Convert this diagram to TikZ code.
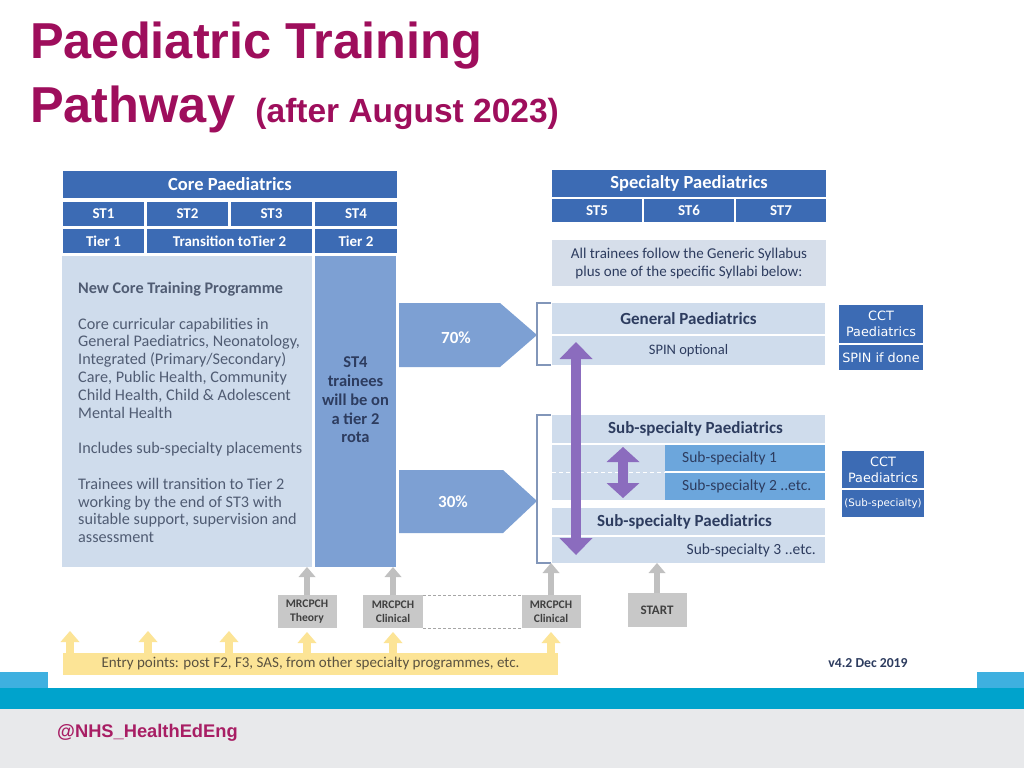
\documentclass[tikz,border=0pt]{standalone}
\usepackage{fontspec}
\setmainfont{Carlito}
\newfontfamily\arialfont{Liberation Sans}
\newfontfamily\verdfont{DejaVu Sans}
\usetikzlibrary{arrows.meta}
\definecolor{hdrblue}{RGB}{60,107,180}
\definecolor{paleblue}{RGB}{207,220,236}
\definecolor{syllgrey}{RGB}{214,222,234}
\definecolor{midblue}{RGB}{125,160,211}
\definecolor{skyblue}{RGB}{108,166,220}
\definecolor{ppl}{RGB}{139,108,190}
\definecolor{navytext}{RGB}{45,60,95}
\definecolor{bodytext}{RGB}{80,92,115}
\definecolor{examgrey}{RGB}{200,200,200}
\definecolor{arrgrey}{RGB}{192,192,192}
\definecolor{entryyel}{RGB}{252,228,150}
\definecolor{entrytext}{RGB}{90,82,64}
\definecolor{brkblue}{RGB}{130,150,185}
\definecolor{titlemag}{RGB}{158,14,92}
\definecolor{tagmag}{RGB}{168,30,100}
\definecolor{stripblue}{RGB}{62,176,224}
\definecolor{stripcyan}{RGB}{0,163,204}
\definecolor{footgrey}{RGB}{232,233,235}
\begin{document}
\begin{tikzpicture}[x=1pt,y=-1pt,
    box/.style={rectangle,inner sep=0pt,outer sep=0pt,align=center},
    hdr/.style={box,fill=hdrblue,text=white,font=\bfseries\fontsize{18.5}{20}\selectfont},
    cell/.style={box,fill=hdrblue,text=white,font=\bfseries\fontsize{15}{17}\selectfont},
    pale/.style={box,fill=paleblue,text=navytext,font=\fontsize{14.5}{17}\selectfont},
    subhdr/.style={pale,font=\bfseries\fontsize{17}{19}\selectfont},
    ttl/.style={anchor=base west,inner sep=0pt,text=titlemag,font=\arialfont\bfseries\fontsize{50.5}{56}\selectfont},
    cct/.style={box,fill=hdrblue,text=white,font=\verdfont\fontsize{12.8}{16}\selectfont},
    exam/.style={box,fill=examgrey,text=black!75,font=\bfseries\fontsize{11.6}{14}\selectfont},
    brk/.style={draw=brkblue,line width=1.8pt},
    dbl/.style={draw=ppl,line width=10pt,>={Triangle[width=33pt,length=17pt,line width=0pt]},<->},
    garr/.style={draw=arrgrey,line width=6pt,-{Triangle[width=17pt,length=10pt,line width=0pt]}},
    yarr/.style={draw=entryyel,line width=8pt,-{Triangle[width=19pt,length=11pt,line width=0pt]}}]
    \fill[white] (0,0) rectangle (1024,768);
    \useasboundingbox (0,0) rectangle (1024,768);
    \fill[stripblue] (0,672) rectangle (1024,688);
    \fill[white] (48,640) rectangle (977,688);
    \fill[stripcyan] (0,688) rectangle (1024,709);
    \fill[footgrey] (0,709) rectangle (1024,768);

    \node[ttl] (t1) at (30,59) {Paediatric Training};
    \node[ttl] (t2) at (30,122) {Pathway};
    \node[ttl,font=\arialfont\bfseries\fontsize{33.5}{40}\selectfont] (t3) at ([xshift=20pt]t2.base east) {(after August 2023)};

    \node[hdr,minimum width=334pt,minimum height=27pt] (core) at (230,184.5) {Core Paediatrics};
    \node[cell,minimum width=81pt,minimum height=24pt] (st1) at (103.5,214) {ST1};
    \node[cell,minimum width=81pt,minimum height=24pt] (st2) at (187.5,214) {ST2};
    \node[cell,minimum width=81pt,minimum height=24pt] (st3) at (271.5,214) {ST3};
    \node[cell,minimum width=82pt,minimum height=24pt] (st4) at (356,214) {ST4};
    \node[cell,minimum width=81pt,minimum height=24pt] (tier1) at (103.5,241) {Tier 1};
    \node[cell,minimum width=165pt,minimum height=24pt] (trans) at (229.5,241) {Transition toTier 2};
    \node[cell,minimum width=82pt,minimum height=24pt] (tier2) at (356,241) {Tier 2};
    \node[pale,minimum width=250pt,minimum height=311pt] (prog) at (187,411.5) {};
    \node[box,fill=midblue,minimum width=81pt,minimum height=311pt] (st4c) at (355.5,411.5) {};
    \node[anchor=north west,inner sep=0pt,align=left,text=bodytext,font=\fontsize{16.2}{17.8}\selectfont] (progt) at (78,282)
        {\textbf{New Core Training Programme}\\[17.8pt]
         Core curricular capabilities in\\
         General Paediatrics, Neonatology,\\
         Integrated (Primary/Secondary)\\
         Care, Public Health, Community\\
         Child Health, Child \& Adolescent\\
         Mental Health\\[17.8pt]
         Includes sub-specialty placements\\[17.8pt]
         Trainees will transition to Tier 2\\
         working by the end of ST3 with\\
         suitable support, supervision and\\
         assessment};
    \node[box,text=navytext,font=\bfseries\fontsize{16.5}{18.7}\selectfont] (st4t) at (355.5,400) {ST4\\trainees\\will be on\\a tier 2\\rota};

    \fill[midblue] (399,303) -- (500,303) -- (537,335) -- (500,367) -- (399,367) -- cycle;
    \node[text=white,font=\bfseries\fontsize{17}{19}\selectfont] (p70) at (456,338) {70\%};
    \fill[midblue] (399,470) -- (503,470) -- (537,501) -- (503,533) -- (399,533) -- cycle;
    \node[text=white,font=\bfseries\fontsize{17}{19}\selectfont] (p30) at (453,502) {30\%};

    \node[hdr,minimum width=274pt,minimum height=27pt] (spec) at (689,183.5) {Specialty Paediatrics};
    \node[cell,minimum width=90pt,minimum height=23pt] (st5) at (597,210.5) {ST5};
    \node[cell,minimum width=90pt,minimum height=23pt] (st6) at (689,210.5) {ST6};
    \node[cell,minimum width=90pt,minimum height=23pt] (st7) at (781,210.5) {ST7};
    \node[box,fill=syllgrey,text=navytext,minimum width=274pt,minimum height=46pt,font=\fontsize{15}{18}\selectfont] (syll) at (689,263)
        {All trainees follow the Generic Syllabus\\plus one of the specific Syllabi below:};

    \node[subhdr,minimum width=273pt,minimum height=31pt] (genp) at (688.5,318.5) {General Paediatrics};
    \node[pale,minimum width=273pt,minimum height=29pt] (spin) at (688.5,350.5) {SPIN optional};
    \node[subhdr,minimum width=273pt,minimum height=28pt] (subA) at (688.5,429) {\hspace*{14pt}Sub-specialty Paediatrics};
    \node[pale,minimum width=113pt,minimum height=55pt] (sublft) at (608.5,472.5) {};
    \node[box,fill=skyblue,minimum width=160pt,minimum height=26pt] (sub1) at (745,458) {};
    \node[box,fill=skyblue,minimum width=160pt,minimum height=27pt] (sub2) at (745,486.5) {};
    \node[anchor=west,inner sep=0pt,text=navytext,font=\fontsize{15.5}{17}\selectfont] (sub1t) at ([xshift=17pt]sub1.west) {Sub-specialty 1};
    \node[anchor=west,inner sep=0pt,text=navytext,font=\fontsize{15.5}{17}\selectfont] (sub2t) at ([xshift=17pt]sub2.west) {Sub-specialty 2 ..etc.};
    \node[subhdr,minimum width=273pt,minimum height=27pt] (subB) at (688.5,521.5) {Sub-specialty Paediatrics\hspace*{8pt}};
    \node[pale,minimum width=273pt,minimum height=26pt] (sub3) at (688.5,550) {};
    \node[anchor=east,inner sep=0pt,text=navytext,font=\fontsize{15.5}{17}\selectfont] (sub3t) at ([xshift=-9pt]sub3.east) {Sub-specialty 3 ..etc.};
    \draw[white,dash pattern=on 4pt off 3pt,line width=1pt] (sublft.west) -- (sublft.east);

    \draw[brk] ([xshift=-1pt]genp.north west) -- ++(-14,0) |- ([xshift=-1pt]spin.south west);
    \draw[brk] ([xshift=-1pt]subA.north west) -- ++(-14,0) |- ([xshift=-1pt]sub3.south west);

    \coordinate (gtop) at (576,342);
    \coordinate (gbot) at (576,555);
    \draw[dbl] (gtop) -- (gbot);
    \coordinate (stop) at (623,447);
    \coordinate (sbot) at (623,498);
    \draw[dbl,>={Triangle[width=33pt,length=15pt,line width=0pt]}] (stop) -- (sbot);

    \node[cct,minimum width=84pt,minimum height=38pt] (cct1) at (881,324) {CCT\\Paediatrics};
    \node[cct,minimum width=84pt,minimum height=25pt] (spinif) at (881,357.5) {SPIN if done};
    \node[cct,minimum width=82pt,minimum height=37pt] (cct2) at (883,469.5) {CCT\\Paediatrics};
    \node[cct,minimum width=82pt,minimum height=27pt,font=\verdfont\fontsize{10.3}{12}\selectfont] (subsp) at (883,503.5) {(Sub-specialty)};

    \node[exam,minimum width=59pt,minimum height=33pt] (mt) at (307,611.5) {MRCPCH\\Theory};
    \node[exam,minimum width=60pt,minimum height=33pt] (mc1) at (393,611.5) {MRCPCH\\Clinical};
    \node[exam,minimum width=59pt,minimum height=33pt] (mc2) at (551,611.5) {MRCPCH\\Clinical};
    \node[exam,minimum width=59pt,minimum height=34pt,font=\bfseries\fontsize{13}{15}\selectfont] (start) at (657,610) {START};
    \draw[draw=black!35,dash pattern=on 3pt off 2pt,line width=0.8pt] (mc1.north east) -- (mc2.north west) (mc1.south east) -- (mc2.south west);
    \draw[garr] (mt.north) -- (mt.north |- prog.south);
    \draw[garr] (mc1.north) -- (mc1.north |- st4c.south);
    \draw[garr] (mc2.north) -- (mc2.north |- sub3.south);
    \draw[garr] (start.north) -- (start.north |- sub3.south);

    \node[box,fill=entryyel,minimum width=495pt,minimum height=22pt,text=entrytext,font=\fontsize{15}{16}\selectfont] (entry) at (310.5,664)
        {Entry points: post F2, F3, SAS, from other specialty programmes, etc.};
    \foreach \x in {70,148,229} \draw[yarr] (\x,0 |- entry.north) -- (\x,631);
    \draw[yarr] (mt.south |- entry.north) -- ([yshift=-4pt]mt.south);
    \draw[yarr] (mc1.south |- entry.north) -- ([yshift=-4pt]mc1.south);
    \draw[yarr] (mc2.south |- entry.north) -- ([yshift=-4pt]mc2.south);

    \node[text=navytext,font=\bfseries\fontsize{13.7}{15}\selectfont] (ver) at (868,663) {v4.2 Dec 2019};
    \node[anchor=base west,inner sep=0pt,text=tagmag,font=\arialfont\bfseries\fontsize{18.3}{20}\selectfont] (tag) at (57,737) {@NHS\_HealthEdEng};
\end{tikzpicture}
\end{document}
